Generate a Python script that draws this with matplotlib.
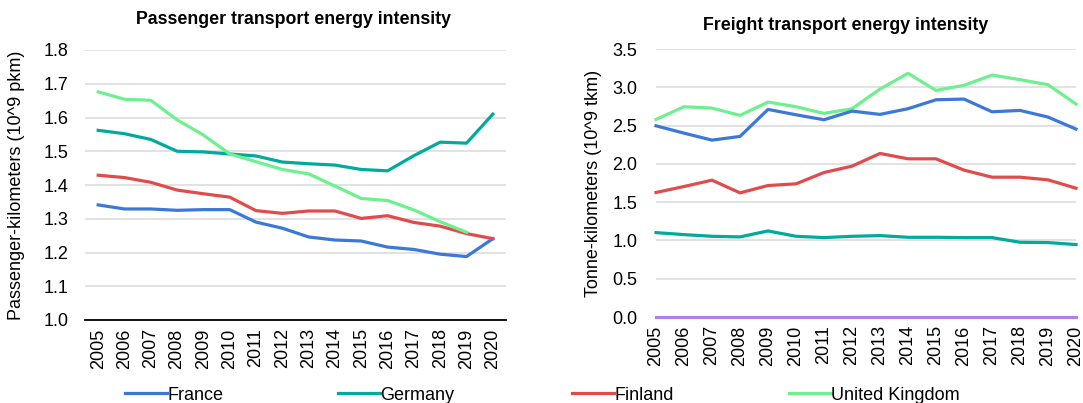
import numpy as np
import matplotlib.pyplot as plt

plt.rcParams['font.family'] = ['Liberation Sans', 'DejaVu Sans']

years = [str(y) for y in range(2005, 2021)]

# passenger transport (10^9 pkm)
pass_france = [1.341, 1.329, 1.329, 1.325, 1.327, 1.327, 1.290, 1.272,
               1.246, 1.237, 1.234, 1.216, 1.209, 1.195, 1.188, 1.241]
pass_germany = [1.562, 1.552, 1.535, 1.500, 1.498, 1.492, 1.486, 1.468,
                1.463, 1.459, 1.446, 1.442, 1.487, 1.527, 1.524, 1.610]
pass_finland = [1.429, 1.422, 1.408, 1.385, 1.374, 1.364, 1.324, 1.316,
                1.323, 1.323, 1.301, 1.309, 1.289, 1.278, 1.256, 1.241]
pass_uk = [1.676, 1.654, 1.651, 1.593, 1.548, 1.492, 1.469, 1.446,
           1.433, 1.397, 1.360, 1.354, 1.326, 1.291, 1.260, np.nan]

# freight transport (10^9 tkm)
frt_france = [2.497, 2.401, 2.310, 2.358, 2.711, 2.641, 2.576, 2.689,
              2.646, 2.720, 2.837, 2.846, 2.680, 2.698, 2.611, 2.454]
frt_germany = [1.102, 1.076, 1.054, 1.046, 1.124, 1.054, 1.037, 1.054,
               1.063, 1.041, 1.041, 1.037, 1.037, 0.976, 0.972, 0.946]
frt_finland = [1.626, 1.704, 1.787, 1.621, 1.717, 1.739, 1.887, 1.970,
               2.136, 2.066, 2.066, 1.918, 1.826, 1.826, 1.791, 1.682]
frt_uk = [2.580, 2.746, 2.728, 2.633, 2.807, 2.746, 2.659, 2.720,
          2.977, 3.182, 2.959, 3.025, 3.160, 3.099, 3.034, 2.781]
frt_other = [0.0] * 16

c_france = '#3c78d8'
c_germany = '#00ab9c'
c_finland = '#e24b4b'
c_uk = '#6ef08e'
c_other = '#b07ef0'

lw = 2.3
fs = 13

fig = plt.figure(figsize=(10.83, 4.03), dpi=100)
W, H = 1083, 403
ax1 = fig.add_axes([85 / W, 1 - 320 / H, 421 / W, 270 / H])
ax2 = fig.add_axes([656 / W, 1 - 317 / H, 420 / W, 268 / H])

x = np.arange(len(years))

h_fr, = ax1.plot(x, pass_france, color=c_france, lw=lw, label='France')
h_de, = ax1.plot(x, pass_germany, color=c_germany, lw=lw, label='Germany')
h_fi, = ax1.plot(x, pass_finland, color=c_finland, lw=lw, label='Finland')
h_uk, = ax1.plot(x, pass_uk, color=c_uk, lw=lw, label='United Kingdom')

ax2.plot(x, frt_uk, color=c_uk, lw=lw, clip_on=False)
ax2.plot(x, frt_france, color=c_france, lw=lw, clip_on=False)
ax2.plot(x, frt_finland, color=c_finland, lw=lw, clip_on=False)
ax2.plot(x, frt_germany, color=c_germany, lw=lw, clip_on=False)
ax2.plot(x, frt_other, color=c_other, lw=lw, clip_on=False, zorder=5)

ax1.set_xlim(-0.5, 15.5)
ax1.set_ylim(1.0, 1.8)
ax1.set_yticks(np.arange(1.0, 1.81, 0.1))
ax2.set_xlim(0, 15)
ax2.set_ylim(0, 3.5)
ax2.set_yticks(np.arange(0, 3.51, 0.5))

for ax in (ax1, ax2):
    ax.set_xticks(x)
    ax.set_xticklabels(years, rotation=90, fontsize=fs)
    ax.yaxis.set_major_formatter(plt.FormatStrFormatter('%.1f'))
    ax.tick_params(axis='y', labelsize=fs, length=0, pad=12)
    ax.tick_params(axis='x', length=0, pad=6)
    ax.grid(axis='y', color='#dddddd', lw=1.2)
    ax.set_axisbelow(True)
    for s in ('top', 'right', 'left'):
        ax.spines[s].set_visible(False)

ax1.spines['bottom'].set_color('black')
ax1.spines['bottom'].set_linewidth(1.3)
ax2.spines['bottom'].set_visible(False)
ax2.tick_params(axis='y', pad=13.5)

ax1.set_ylabel('Passenger-kilometers (10^9 pkm)', fontsize=fs)
ax2.set_ylabel('Tonne-kilometers (10^9 tkm)', fontsize=fs)
ax1.yaxis.set_label_coords((25 - 85) / 421, 0.5)
ax2.yaxis.set_label_coords((602 - 656) / 420, 0.5)

fig.text(294 / W, 1 - 20 / H, 'Passenger transport energy intensity',
         ha='center', va='center', fontsize=12.8, fontweight='bold')
fig.text(846 / W, 1 - 26 / H, 'Freight transport energy intensity',
         ha='center', va='center', fontsize=12.8, fontweight='bold')

leg_kw = dict(frameon=False, fontsize=fs, handlelength=2.3, handletextpad=0.05,
              loc='center left', borderaxespad=0, borderpad=0)
fig.legend(handles=[h_fr], bbox_to_anchor=(125 / W, 1 - 395 / H), **leg_kw)
fig.legend(handles=[h_de], bbox_to_anchor=(338 / W, 1 - 395 / H), **leg_kw)
fig.legend(handles=[h_fi], bbox_to_anchor=(572 / W, 1 - 395 / H), **leg_kw)
fig.legend(handles=[h_uk], bbox_to_anchor=(789 / W, 1 - 395 / H), **leg_kw)

fig.savefig('out.png', dpi=100)
